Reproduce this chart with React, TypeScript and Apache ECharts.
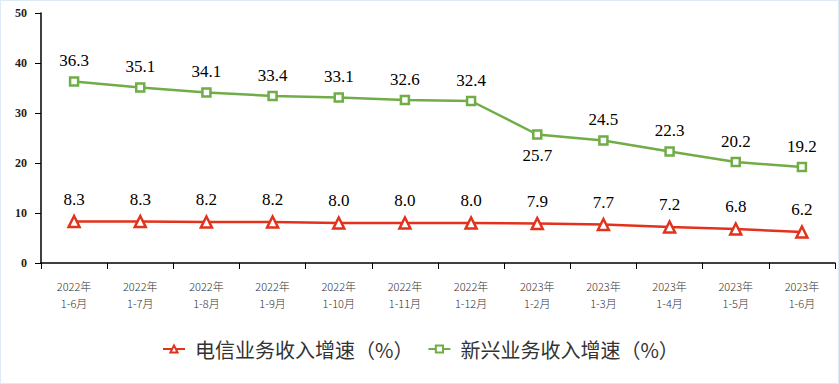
import React, { useEffect, useRef } from "react";
import * as echarts from "echarts";

const categories = [
  "2022年\n1-6月", "2022年\n1-7月", "2022年\n1-8月", "2022年\n1-9月",
  "2022年\n1-10月", "2022年\n1-11月", "2022年\n1-12月", "2023年\n1-2月",
  "2023年\n1-3月", "2023年\n1-4月", "2023年\n1-5月", "2023年\n1-6月",
];
const telecomGrowth = [8.3, 8.3, 8.2, 8.2, 8.0, 8.0, 8.0, 7.9, 7.7, 7.2, 6.8, 6.2];
const emergingGrowth = [36.3, 35.1, 34.1, 33.4, 33.1, 32.6, 32.4, 25.7, 24.5, 22.3, 20.2, 19.2];
const seriesNames = ["电信业务收入增速（%）", "新兴业务收入增速（%）"];
const belowLabelIndex = [7];

export default function App() {
  const ref = useRef<HTMLDivElement>(null);
  useEffect(() => {
    document.body.style.margin = "0";
    const chart = echarts.init(ref.current!, null, { renderer: "svg" });
    const serif = "'Liberation Serif', 'DejaVu Serif', serif";
    const cjk = "'Noto Sans CJK SC', sans-serif";
    chart.setOption({
      animation: false,
      backgroundColor: "#ffffff",
      grid: { left: 40, right: 3, top: 12, bottom: 120, containLabel: false },
      legend: {
        top: 338,
        left: 161,
        padding: 0,
        itemGap: 14,
        itemWidth: 22,
        itemHeight: 9,
        textStyle: { fontFamily: cjk, fontSize: 20, color: "#333", padding: [0, 0, 0, 5] },
        data: seriesNames,
      },
      xAxis: {
        type: "category",
        data: categories,
        boundaryGap: true,
        axisLine: { lineStyle: { color: "#000", width: 1.5 } },
        axisTick: { show: true, alignWithLabel: false, length: 6, lineStyle: { color: "#000" } },
        axisLabel: {
          interval: 0,
          margin: 14,
          fontFamily: cjk,
          fontSize: 11,
          fontWeight: 300,
          lineHeight: 17,
          color: "#333",
        },
      },
      yAxis: {
        type: "value",
        min: 0,
        max: 50,
        interval: 10,
        splitLine: { show: false },
        axisLine: { show: true, lineStyle: { color: "#000", width: 1.5 } },
        axisTick: { show: true, inside: false, length: 6, lineStyle: { color: "#000" } },
        axisLabel: {
          margin: 14,
          fontFamily: serif,
          fontSize: 12,
          fontWeight: "bold",
          color: "#222",
        },
      },
      series: [
        {
          name: seriesNames[0],
          type: "line",
          data: telecomGrowth,
          symbol: "triangle",
          symbolSize: 11,
          color: "#e3321b",
          lineStyle: { width: 2.5, color: "#e3321b" },
          itemStyle: { color: "#fff", borderColor: "#e3321b", borderWidth: 2.5 },
          label: {
            show: true,
            position: "top",
            distance: 7,
            fontFamily: serif,
            fontSize: 17,
            fontWeight: "normal",
            color: "#000",
            formatter: (p: any) => Number(p.value).toFixed(1),
          },
        },
        {
          name: seriesNames[1],
          type: "line",
          data: emergingGrowth.map((v, i) =>
            belowLabelIndex.includes(i)
              ? { value: v, label: { position: "bottom", distance: 7 } }
              : v
          ),
          symbol: "rect",
          symbolSize: 8,
          color: "#70ad47",
          lineStyle: { width: 2.5, color: "#70ad47" },
          itemStyle: { color: "#fff", borderColor: "#70ad47", borderWidth: 2.5 },
          label: {
            show: true,
            position: "top",
            distance: 7,
            fontFamily: serif,
            fontSize: 17,
            fontWeight: "normal",
            color: "#000",
            formatter: (p: any) => Number(p.value).toFixed(1),
          },
        },
      ],
    });
    return () => chart.dispose();
  }, []);
  return (
    <div
      style={{
        width: 839,
        height: 384,
        boxSizing: "border-box",
        border: "1px solid #dcebf7",
        position: "relative",
      }}
    >
      <div ref={ref} style={{ width: 837, height: 382 }} />
    </div>
  );
}
